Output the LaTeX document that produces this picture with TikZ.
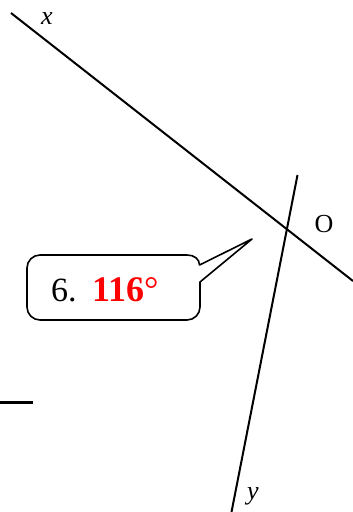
\documentclass[tikz,border=0pt]{standalone}
\usepackage{fontspec}
\setmainfont{Liberation Serif}
\begin{document}
\begin{tikzpicture}[x=1pt,y=-1pt,
  geoline/.style={line width=2pt,line cap=butt},
  lbl/.style={font=\fontsize{26}{30}\selectfont, inner sep=0pt},
  callout/.style={line width=1.6pt,line join=round}]
\useasboundingbox (0,0) rectangle (353,512);
% lines
\coordinate (xa) at (11,13);
\coordinate (xb) at (353,281);
\coordinate (ya) at (297.5,175);
\coordinate (yb) at (231.5,512);
\coordinate (ha) at (0,402.3);
\coordinate (hb) at (33,402.3);
\draw[geoline] (xa) -- (xb);
\draw[geoline] (ya) -- (yb);
\draw[line width=3pt] (ha) -- (hb);
% labels
\node[lbl] (xl) at (47,19) {\textit{x}};
\node[lbl] (yl) at (253,496) {\textit{y}};
\node[lbl] (ol) at (324,224) {O};
% callout
\coordinate (tip) at (252,239);
\draw[callout] (200,282) -- (200,307) .. controls (200,314.2) and (194.2,320) .. (187,320)
  -- (40,320) .. controls (32.8,320) and (27,314.2) .. (27,307)
  -- (27,268) .. controls (27,260.8) and (32.8,255) .. (40,255)
  -- (187,255) .. controls (194.2,255) and (199.5,259) .. (199.5,265)
  -- (tip) -- cycle;
\node[anchor=base west, inner sep=0pt, font=\fontsize{34}{38}\selectfont] (n6) at (51,301.5) {6.};
\node[anchor=base west, inner sep=0pt, text=red, font=\fontsize{36}{40}\selectfont] (ans) at (92,301.5) {\textbf{116}°};
\end{tikzpicture}
\end{document}
